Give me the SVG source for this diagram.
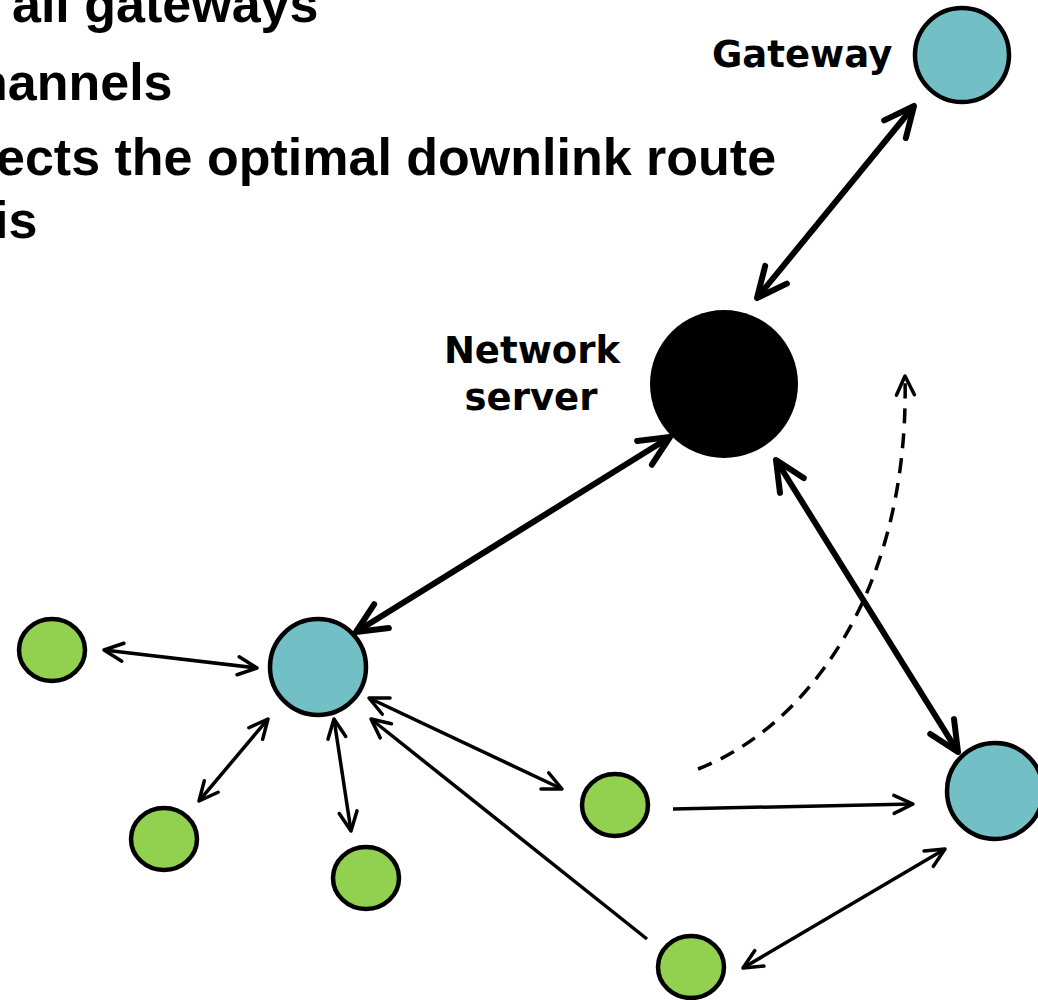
<svg xmlns="http://www.w3.org/2000/svg" width="1038" height="1000" viewBox="0 0 1038 1000">
<style>
.bg{fill:#ffffff}
.title{font-family:"Liberation Sans",Arial,sans-serif;font-weight:bold;font-size:52px;fill:#000}
.lbl{font-family:"DejaVu Sans",Verdana,sans-serif;font-weight:bold;font-size:37px;fill:#000}
.gw{fill:#72BFC5;stroke:#000;stroke-width:4.5}
.dev{fill:#92D050;stroke:#000;stroke-width:4.5}
.ns{fill:#000}
.thick{fill:none;stroke:#000;stroke-width:6;marker-start:url(#ah);marker-end:url(#ah)}
.thin{fill:none;stroke:#000;stroke-width:3.5}
.both{marker-start:url(#as);marker-end:url(#as)}
.end{marker-end:url(#as)}
.dash{fill:none;stroke:#000;stroke-width:3.5;stroke-dasharray:15 10;marker-end:url(#ad)}
</style>
<defs>
<marker id="ah" markerUnits="userSpaceOnUse" orient="auto-start-reverse" refX="0" refY="0" markerWidth="1" markerHeight="1" overflow="visible">
<path d="M-30,-14 L0,0 L-30,14" fill="none" stroke="#000" stroke-width="6" stroke-linecap="round" stroke-linejoin="round"/>
</marker>
<marker id="as" markerUnits="userSpaceOnUse" orient="auto-start-reverse" refX="0" refY="0" markerWidth="1" markerHeight="1" overflow="visible">
<path d="M-19,-9 L0,0 L-19,9" fill="none" stroke="#000" stroke-width="3.5" stroke-linecap="round" stroke-linejoin="round"/>
</marker>
<marker id="ad" markerUnits="userSpaceOnUse" orient="auto" refX="0" refY="0" markerWidth="1" markerHeight="1" overflow="visible">
<path d="M-19,-9 L0,0 L-19,9" fill="none" stroke="#000" stroke-width="3.5" stroke-linecap="round" stroke-linejoin="round"/>
</marker>
</defs>
<rect class="bg" x="0" y="0" width="1038" height="1000"/>
<g id="title-text">
<text class="title" x="12" y="22">all gateways</text>
<text class="title" x="-24" y="100">hannels</text>
<text class="title" x="-4" y="175">ects the optimal downlink route</text>
<text class="title" x="-6" y="238">is</text>
</g>
<g id="connectors">
<path class="thick" d="M757,298 L914,106"/>
<path class="thick" d="M670,437 L356,632"/>
<path class="thick" d="M776,460 L958,752"/>
<path class="thin both" d="M104,650 L257,668"/>
<path class="thin both" d="M199,801 L268,719"/>
<path class="thin both" d="M334,719 L351,831"/>
<path class="thin both" d="M369,698 L562,789"/>
<path class="thin end" d="M647,939 L371,719"/>
<path class="thin end" d="M673,809 L913,804"/>
<path class="thin both" d="M743,968 L945,849"/>
<path class="dash" d="M698,769 C800,730 910,600 905,376"/>
</g>
<g id="gateway-top">
<circle class="gw" cx="962" cy="55" r="47"/>
<text class="lbl" x="712" y="67">Gateway</text>
</g>
<g id="network-server">
<circle class="ns" cx="724" cy="384" r="74"/>
<text class="lbl" x="532" y="363" text-anchor="middle">Network</text>
<text class="lbl" x="531" y="410" text-anchor="middle">server</text>
</g>
<g id="gateway-left">
<circle class="gw" cx="318" cy="667" r="48"/>
</g>
<g id="gateway-right">
<circle class="gw" cx="995" cy="791" r="48"/>
</g>
<g id="device-1"><ellipse class="dev" cx="52" cy="650" rx="33" ry="31"/></g>
<g id="device-2"><ellipse class="dev" cx="164" cy="839" rx="33" ry="31"/></g>
<g id="device-3"><ellipse class="dev" cx="366" cy="878" rx="33" ry="31"/></g>
<g id="device-4"><ellipse class="dev" cx="615" cy="805" rx="33" ry="31"/></g>
<g id="device-5"><ellipse class="dev" cx="691" cy="967" rx="33" ry="31"/></g>
</svg>
